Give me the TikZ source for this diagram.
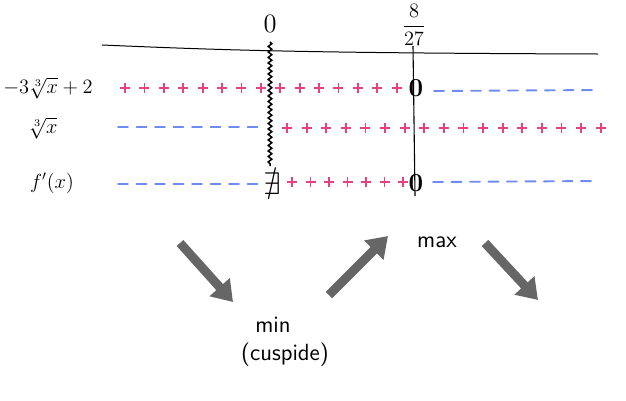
\documentclass[tikz,border=0pt]{standalone}
\usepackage{amsmath,amssymb}
\usetikzlibrary{arrows.meta,decorations.pathmorphing}
\definecolor{signpink}{RGB}{232,64,128}
\definecolor{signblue}{RGB}{110,140,240}
\definecolor{arrowgray}{RGB}{102,102,102}
\begin{document}
\begin{tikzpicture}[x=1pt, y=-1pt,
  lbl/.style={font=\large, scale=1.7, inner sep=1pt},
  word/.style={font=\large\sffamily, scale=1.95, inner sep=1pt},
  plussign/.style={signpink, line width=1.8pt},
  minusline/.style={signblue, line width=1.9pt, line cap=round, dash pattern=on 10pt off 8.5pt},
  zero/.style={font=\huge\bfseries, scale=1.25, inner sep=0pt},
  trend/.style={arrowgray, line width=9pt, -{Triangle[length=20pt,width=26pt]}}
]
\useasboundingbox (0,0) rectangle (626,400);
% axis and values
\draw[line width=1pt] (102,45) .. controls (220,50) and (300,53) .. (598,54);
\node[lbl, scale=1.3] (v0) at (270,24) {$0$};
\node[lbl, scale=1.0, inner sep=0pt] (v1) at (414,25) {$\dfrac{8}{27}$};
\draw[line width=1.5pt, decorate, decoration={snake, amplitude=1.8pt, segment length=5.5pt}] (270,42) -- (270,166);
\draw[line width=1.1pt] (413,46) .. controls (414,120) .. (415,196);
% row labels
\node[lbl] (r1) at (48,88) {$-3\sqrt[3]{x}+2$};
\node[lbl] (r2) at (43,128) {$\sqrt[3]{x}$};
\node[lbl] (r3) at (52,183) {$f'(x)$};
% row 1
\foreach \x in {125,144.4,...,398}
  \draw[plussign] (\x-5,88) -- ++(10,0) (\x,83) -- ++(0,10);
\node[zero] (z1) at (416,88) {0};
\draw[minusline] (434,91) -- (598,90);
% row 2
\draw[minusline] (118,127) -- (265,127);
\foreach \x in {287,306.6,...,603}
  \draw[plussign] (\x-5,128) -- ++(10,0) (\x,123) -- ++(0,10);
% row 3
\draw[minusline] (118,184) -- (258,184);
\node[font=\large, scale=2.6, inner sep=0pt] (ne) at (272,184) {$\nexists$};
\foreach \x in {292,310.5,...,405}
  \draw[plussign] (\x-5,182) -- ++(10,0) (\x,177) -- ++(0,10);
\node[zero] (z3) at (416,183) {0};
\draw[minusline] (433,182) -- (597,181);
% trend arrows
\coordinate (a1) at (180,243);
\coordinate (b1) at (233,302);
\coordinate (a2) at (329,295);
\coordinate (b2) at (388,236);
\coordinate (a3) at (485,243);
\coordinate (b3) at (538,300);
\draw[trend] (a1) -- (b1);
\draw[trend] (a2) -- (b2);
\draw[trend] (a3) -- (b3);
\node[word] (mx) at (437,242) {max};
\node[word] (mn) at (273,325) {min};
\node[word] (cu) at (285,355) {(cuspide)};
\end{tikzpicture}
\end{document}
